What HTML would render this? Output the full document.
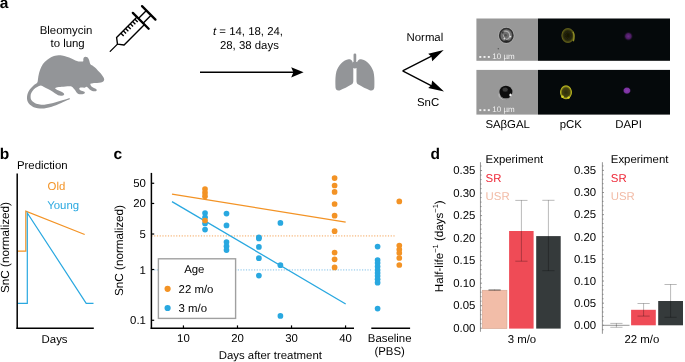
<!DOCTYPE html>
<html><head><meta charset="utf-8"><style>
html,body{margin:0;padding:0;background:#fff;}
svg{display:block;will-change:transform;}
text{font-family:"Liberation Sans",sans-serif;text-rendering:geometricPrecision;}
</style></head><body>
<svg width="685" height="362" viewBox="0 0 685 362">
<rect width="685" height="362" fill="#fff"/>
<text x="-0.3" y="8.3" font-size="15.5" text-anchor="start" fill="#000" font-weight="bold" >a</text>
<text x="66.0" y="33.9" font-size="11.4" text-anchor="middle" fill="#000" font-weight="normal" >Bleomycin</text>
<text x="67.6" y="47.0" font-size="11.4" text-anchor="middle" fill="#000" font-weight="normal" >to lung</text>
<g transform="translate(110.2,51.4) rotate(-45)" stroke="#000" fill="none" stroke-linecap="round" stroke-linejoin="round">
<line x1="0" y1="0" x2="10.3" y2="0" stroke-width="1.3"/>
<path d="M43.2,-5.3 L14.35,-5.3 L10.3,0 L14.35,5.3 L43.2,5.3" stroke-width="1.4"/>
<line x1="20.50" y1="-5.3" x2="20.50" y2="-1.4" stroke-width="1.35" stroke-linecap="butt"/>
<line x1="23.80" y1="-5.3" x2="23.80" y2="-1.4" stroke-width="1.35" stroke-linecap="butt"/>
<line x1="27.10" y1="-5.3" x2="27.10" y2="-1.4" stroke-width="1.35" stroke-linecap="butt"/>
<line x1="30.40" y1="-5.3" x2="30.40" y2="-1.4" stroke-width="1.35" stroke-linecap="butt"/>
<line x1="33.70" y1="-5.3" x2="33.70" y2="-1.4" stroke-width="1.35" stroke-linecap="butt"/>
<line x1="37.00" y1="-5.3" x2="37.00" y2="-1.4" stroke-width="1.35" stroke-linecap="butt"/>
<line x1="40.30" y1="-5.3" x2="40.30" y2="-1.4" stroke-width="1.35" stroke-linecap="butt"/>
<line x1="43.2" y1="-11.2" x2="43.2" y2="11.2" stroke-width="2.3"/>
<path d="M43.2,-3.3 L54.5,-3.3 M43.2,3.3 L54.5,3.3" stroke-width="1.4"/>
<line x1="54.5" y1="-9.5" x2="54.5" y2="9.5" stroke-width="2.3"/>
</g>
<path fill="#939598" d="M37.30,82.40 C37.92,81.43 37.78,80.20 38.00,79.00 C38.22,77.80 38.25,76.75 38.60,75.20 C38.95,73.65 39.40,71.53 40.10,69.70 C40.80,67.87 41.60,65.87 42.80,64.20 C44.00,62.53 45.85,60.90 47.30,59.70 C48.75,58.50 50.22,57.65 51.50,57.00 C52.78,56.35 53.83,56.08 55.00,55.80 C56.17,55.52 57.33,55.35 58.50,55.30 C59.67,55.25 60.63,55.27 62.00,55.50 C63.37,55.73 65.13,56.20 66.70,56.70 C68.27,57.20 69.95,57.87 71.40,58.50 C72.85,59.13 74.23,60.02 75.40,60.50 C76.57,60.98 77.42,61.23 78.40,61.40 C79.38,61.57 80.50,61.52 81.30,61.50 C82.10,61.48 82.87,61.67 83.20,61.30 C83.53,60.93 83.18,59.93 83.30,59.30 C83.42,58.67 83.55,57.93 83.90,57.50 C84.25,57.07 84.82,56.73 85.40,56.70 C85.98,56.67 86.82,56.83 87.40,57.30 C87.98,57.77 88.52,58.68 88.90,59.50 C89.28,60.32 89.45,61.42 89.70,62.20 C89.95,62.98 89.95,63.63 90.40,64.20 C90.85,64.77 91.63,65.03 92.40,65.60 C93.17,66.17 94.10,66.80 95.00,67.60 C95.90,68.40 96.83,69.43 97.80,70.40 C98.77,71.37 99.92,72.35 100.80,73.40 C101.68,74.45 102.53,75.73 103.10,76.70 C103.67,77.67 104.13,78.43 104.20,79.20 C104.27,79.97 104.03,80.73 103.50,81.30 C102.97,81.87 102.08,82.30 101.00,82.60 C99.92,82.90 98.33,83.00 97.00,83.10 C95.67,83.20 94.03,83.12 93.00,83.20 C91.97,83.28 91.23,83.33 90.80,83.60 C90.37,83.87 90.28,84.32 90.40,84.80 C90.52,85.28 90.92,85.97 91.50,86.50 C92.08,87.03 93.13,87.60 93.90,88.00 C94.67,88.40 95.62,88.53 96.10,88.90 C96.58,89.27 96.95,89.80 96.80,90.20 C96.65,90.60 95.97,91.17 95.20,91.30 C94.43,91.43 93.13,91.30 92.20,91.00 C91.27,90.70 90.30,90.05 89.60,89.50 C88.90,88.95 88.57,88.15 88.00,87.70 C87.43,87.25 86.77,86.78 86.20,86.80 C85.63,86.82 85.43,87.67 84.60,87.80 C83.77,87.93 82.08,87.50 81.20,87.60 C80.32,87.70 79.43,87.95 79.30,88.40 C79.17,88.85 79.87,89.87 80.40,90.30 C80.93,90.73 81.78,90.72 82.50,91.00 C83.22,91.28 84.38,91.60 84.70,92.00 C85.02,92.40 84.90,93.03 84.40,93.40 C83.90,93.77 82.70,94.12 81.70,94.20 C80.70,94.28 79.28,94.23 78.40,93.90 C77.52,93.57 77.03,92.92 76.40,92.20 C75.77,91.48 75.28,90.47 74.60,89.60 C73.92,88.73 73.02,87.57 72.30,87.00 C71.58,86.43 71.43,86.30 70.30,86.20 C69.17,86.10 66.97,86.30 65.50,86.40 C64.03,86.50 63.00,86.60 61.50,86.80 C60.00,87.00 57.52,87.27 56.50,87.60 C55.48,87.93 54.85,88.22 55.40,88.80 C55.95,89.38 58.57,90.50 59.80,91.10 C61.03,91.70 62.07,91.92 62.80,92.40 C63.53,92.88 64.17,93.48 64.20,94.00 C64.23,94.52 63.87,95.23 63.00,95.50 C62.13,95.77 60.07,95.80 59.00,95.60 C57.93,95.40 57.63,94.95 56.60,94.30 C55.57,93.65 54.23,92.58 52.80,91.70 C51.37,90.82 49.47,89.78 48.00,89.00 C46.53,88.22 45.20,87.57 44.00,87.00 C42.80,86.43 41.93,85.60 40.80,85.60 C39.67,85.60 38.38,86.35 37.20,87.00 C36.02,87.65 34.68,88.50 33.70,89.50 C32.72,90.50 31.82,91.88 31.30,93.00 C30.78,94.12 30.58,95.02 30.60,96.20 C30.62,97.38 30.63,98.92 31.40,100.10 C32.17,101.28 33.77,102.55 35.20,103.30 C36.63,104.05 38.48,104.37 40.00,104.60 C41.52,104.83 42.72,104.83 44.30,104.70 C45.88,104.57 47.73,104.18 49.50,103.80 C51.27,103.42 52.90,102.95 54.90,102.40 C56.90,101.85 59.28,101.17 61.50,100.50 C63.72,99.83 66.82,98.75 68.20,98.40 C69.58,98.05 69.57,98.25 69.80,98.40 C70.03,98.55 70.15,98.95 69.60,99.30 C69.05,99.65 68.20,99.77 66.50,100.50 C64.80,101.23 61.65,102.73 59.40,103.70 C57.15,104.67 54.77,105.65 53.00,106.30 C51.23,106.95 50.30,107.25 48.80,107.60 C47.30,107.95 45.48,108.25 44.00,108.40 C42.52,108.55 41.32,108.60 39.90,108.50 C38.48,108.40 36.82,108.17 35.50,107.80 C34.18,107.43 33.12,107.00 32.00,106.30 C30.88,105.60 29.58,104.57 28.80,103.60 C28.02,102.63 27.60,101.52 27.30,100.50 C27.00,99.48 26.98,98.50 27.00,97.50 C27.02,96.50 27.10,95.58 27.40,94.50 C27.70,93.42 28.15,92.13 28.80,91.00 C29.45,89.87 30.38,88.73 31.30,87.70 C32.22,86.67 33.30,85.68 34.30,84.80 C35.30,83.92 36.68,83.37 37.30,82.40 Z"/>
<line x1="200" y1="72.3" x2="294" y2="72.3" stroke="#000" stroke-width="1.4" />
<path d="M303.6,72.3 L291.2,67.2 L293.4,72.3 L291.2,77.4 Z" fill="#000"/>
<path d="M402.6,70.9 L434,54.8 M402.6,70.9 L434,87.2" stroke="#000" stroke-width="1.4" fill="none"/>
<path d="M443.7,50.0 L428.2,53.8 L431.4,56.6 L432.2,61.2 Z" fill="#000"/>
<path d="M444.0,91.4 L432.2,80.6 L431.4,85.2 L428.2,88.0 Z" fill="#000"/>
<text x="248.0" y="34.7" font-size="11.4" text-anchor="middle" fill="#000" font-weight="normal" ><tspan font-style="italic">t</tspan> = 14, 18, 24,</text>
<text x="249.4" y="48.5" font-size="11.4" text-anchor="middle" fill="#000" font-weight="normal" >28, 38 days</text>
<path fill="#939598" d="M353.3,66 C353.2,61.5 351.5,58.8 348.6,59.2 C343.5,59.8 338.5,65 336.4,71.5 C335.4,75 335.3,80 335.4,84.5 L335.5,87.6 C335.7,90 337.4,91 339.6,90.4 C343.5,89 348,86.6 351.4,84.6 C352.9,83.7 353.3,82.6 353.3,81 Z"/>
<path fill="#939598" d="M353.3,66 C353.2,61.5 351.5,58.8 348.6,59.2 C343.5,59.8 338.5,65 336.4,71.5 C335.4,75 335.3,80 335.4,84.5 L335.5,87.6 C335.7,90 337.4,91 339.6,90.4 C343.5,89 348,86.6 351.4,84.6 C352.9,83.7 353.3,82.6 353.3,81 Z" transform="translate(709.8,0) scale(-1,1)"/>
<rect x="353.55" y="53.5" width="2.7" height="13.5" rx="1.3" fill="#939598"/>
<path fill="#939598" d="M352.8,62 L357,62 L357,67.3 C356,68.9 353.8,68.9 352.8,67.3 Z"/>
<text x="424.9" y="40.7" font-size="11.4" text-anchor="middle" fill="#000" font-weight="normal" >Normal</text>
<text x="428.1" y="105.5" font-size="11.4" text-anchor="middle" fill="#000" font-weight="normal" >SnC</text>
<defs>
<filter id="bl1" x="-50%" y="-50%" width="200%" height="200%"><feGaussianBlur stdDeviation="0.6"/></filter>
<filter id="bl2" x="-50%" y="-50%" width="200%" height="200%"><feGaussianBlur stdDeviation="1.4"/></filter>
<filter id="bl3" x="-50%" y="-50%" width="200%" height="200%"><feGaussianBlur stdDeviation="0.9"/></filter>
</defs>
<rect x="476.4" y="18.5" width="61.6" height="42.3" fill="#989898"/>
<rect x="538" y="18.5" width="132" height="42.3" fill="#05090b"/>
<rect x="476.4" y="69.9" width="61.6" height="44.7" fill="#989898"/>
<rect x="538" y="69.9" width="132" height="44.7" fill="#05090b"/>
<defs>
<radialGradient id="pck1" cx="0.5" cy="0.5" r="0.5"><stop offset="0" stop-color="#141405"/><stop offset="0.6" stop-color="#262608"/><stop offset="0.86" stop-color="#5f5d19"/><stop offset="1" stop-color="#5f5d19" stop-opacity="0"/></radialGradient>
<radialGradient id="pck2" cx="0.5" cy="0.5" r="0.5"><stop offset="0" stop-color="#2c2b0a"/><stop offset="0.6" stop-color="#45430f"/><stop offset="0.85" stop-color="#b8b420"/><stop offset="1" stop-color="#b8b420" stop-opacity="0"/></radialGradient>
<radialGradient id="dapi1" cx="0.5" cy="0.5" r="0.5"><stop offset="0" stop-color="#6a2a88"/><stop offset="0.55" stop-color="#4a1c60"/><stop offset="1" stop-color="#05090b" stop-opacity="0"/></radialGradient>
<radialGradient id="dapi2" cx="0.5" cy="0.5" r="0.5"><stop offset="0" stop-color="#8c3cae"/><stop offset="0.65" stop-color="#7a32a0"/><stop offset="1" stop-color="#05090b" stop-opacity="0"/></radialGradient>
</defs>
<g filter="url(#bl1)"><ellipse cx="506.3" cy="35.4" rx="7.7" ry="7.9" fill="none" stroke="#b2b2b2" stroke-width="0.8"/><ellipse cx="506.3" cy="35.4" rx="6.6" ry="6.9" fill="#6e6e6e" stroke="#303030" stroke-width="1.6"/><path d="M504.2,31.2 Q508.8,30.6 509.6,34.6 Q510.2,38.6 506.2,39.4" fill="none" stroke="#b0b0b0" stroke-width="1.1"/><path d="M503.2,34.5 Q503.4,37.8 505.5,38.4" fill="none" stroke="#a8a8a8" stroke-width="1.0"/><circle cx="505.6" cy="35.2" r="1.3" fill="#505050"/><circle cx="502.6" cy="32.6" r="1.0" fill="#3a3a3a"/><circle cx="510.4" cy="36.6" r="0.9" fill="#dedede"/><circle cx="504.4" cy="38.6" r="0.9" fill="#d8d8d8"/><ellipse cx="506.5" cy="41.2" rx="2.6" ry="0.9" fill="#262626"/><circle cx="498.3" cy="48.8" r="0.7" fill="#555"/></g>
<g filter="url(#bl1)"><ellipse cx="504.2" cy="95.0" rx="5.2" ry="4.2" fill="none" stroke="#c4c4c4" stroke-width="0.9"/><ellipse cx="505.9" cy="92.1" rx="6.5" ry="6.4" fill="#111"/><ellipse cx="505.2" cy="89.6" rx="2.6" ry="2.2" fill="#3a3a3a"/><ellipse cx="510.5" cy="95.0" rx="1.2" ry="1.5" fill="#f4f4f4"/><path d="M500.5,97 Q503,99.6 507,99" fill="none" stroke="#7a7a7a" stroke-width="0.9"/></g>
<ellipse cx="567.9" cy="35.5" rx="7.0" ry="8.0" fill="url(#pck1)" filter="url(#bl1)"/>
<path d="M573.0,31.8 Q575.0,36 573.3,41.2" fill="none" stroke="#8e8c26" stroke-width="1.4" filter="url(#bl1)"/>
<ellipse cx="566.0" cy="92.3" rx="6.4" ry="7.5" fill="url(#pck2)" filter="url(#bl1)"/>
<circle cx="562.5" cy="96.8" r="1.3" fill="#dcd828" filter="url(#bl1)"/><circle cx="568.6" cy="97.6" r="1.2" fill="#dcd828" filter="url(#bl1)"/>
<circle cx="628.4" cy="36.3" r="5.0" fill="url(#dapi1)"/>
<ellipse cx="626.9" cy="90.6" rx="4.4" ry="4.0" fill="url(#dapi2)" filter="url(#bl1)"/>
<rect x="479.3" y="56.0" width="2.0" height="1.9" fill="#f2f2f2"/>
<rect x="483.5" y="56.0" width="2.0" height="1.9" fill="#f2f2f2"/>
<rect x="487.8" y="56.0" width="2.0" height="1.9" fill="#f2f2f2"/>
<text x="492.3" y="58.6" font-size="8.0" text-anchor="start" fill="#f2f2f2" font-weight="normal" >10 µm</text>
<rect x="479.3" y="109.2" width="2.0" height="1.9" fill="#f2f2f2"/>
<rect x="483.5" y="109.2" width="2.0" height="1.9" fill="#f2f2f2"/>
<rect x="487.8" y="109.2" width="2.0" height="1.9" fill="#f2f2f2"/>
<text x="492.3" y="111.8" font-size="8.0" text-anchor="start" fill="#f2f2f2" font-weight="normal" >10 µm</text>
<text x="507.65" y="127.6" font-size="11.4" text-anchor="middle" fill="#000" font-weight="normal" >SAβGAL</text>
<text x="570.85" y="127.6" font-size="11.4" text-anchor="middle" fill="#000" font-weight="normal" >pCK</text>
<text x="628.6" y="127.6" font-size="11.4" text-anchor="middle" fill="#000" font-weight="normal" >DAPI</text>
<text x="-0.3" y="158.7" font-size="15.5" text-anchor="start" fill="#000" font-weight="bold" >b</text>
<text x="42.25" y="168.6" font-size="11.4" text-anchor="middle" fill="#000" font-weight="normal" >Prediction</text>
<polyline points="17.6,251.2 25.8,251.2 25.8,211.2 84.7,234.5" fill="none" stroke="#f39325" stroke-width="1.2" stroke-linejoin="miter"/>
<polyline points="17.6,303.3 27.3,303.3 27.3,212.9 86.2,303.3 93.5,303.3" fill="none" stroke="#29a8e0" stroke-width="1.2"/>
<line x1="17.2" y1="173.6" x2="17.2" y2="329.0" stroke="#000" stroke-width="1.5" />
<line x1="16.45" y1="328.3" x2="93.8" y2="328.3" stroke="#000" stroke-width="1.5" />
<text x="56.4" y="189.7" font-size="11.4" text-anchor="middle" fill="#f39325" font-weight="normal" >Old</text>
<text x="63.2" y="208.5" font-size="11.4" text-anchor="middle" fill="#29a8e0" font-weight="normal" >Young</text>
<text x="54.6" y="342.5" font-size="11.4" text-anchor="middle" fill="#000" font-weight="normal" >Days</text>
<text x="0" y="0" font-size="11.7" text-anchor="middle" fill="#000" font-weight="normal" transform="translate(9.4,247.5) rotate(-90)">SnC (normalized)</text>
<text x="113.4" y="159.1" font-size="15.5" text-anchor="start" fill="#000" font-weight="bold" >c</text>
<line x1="151.4" y1="235.85" x2="394.8" y2="235.85" stroke="#f9cba0" stroke-width="1.7" stroke-dasharray="1.2,1.55"/>
<line x1="151.4" y1="269.95" x2="371" y2="269.95" stroke="#b6dbf2" stroke-width="1.7" stroke-dasharray="1.2,1.5"/>
<line x1="172.0" y1="194.1" x2="345.7" y2="222.2" stroke="#f39325" stroke-width="1.3" />
<line x1="172.0" y1="201.6" x2="345.7" y2="304.0" stroke="#29a8e0" stroke-width="1.3" />
<circle cx="205.05" cy="213.0" r="2.85" fill="#29a8e0"/>
<circle cx="205.05" cy="217.3" r="2.85" fill="#29a8e0"/>
<circle cx="205.05" cy="223.5" r="2.85" fill="#29a8e0"/>
<circle cx="205.05" cy="229.6" r="2.85" fill="#29a8e0"/>
<circle cx="226.5" cy="213.6" r="2.85" fill="#29a8e0"/>
<circle cx="226.5" cy="225.4" r="2.85" fill="#29a8e0"/>
<circle cx="226.5" cy="242.1" r="2.85" fill="#29a8e0"/>
<circle cx="226.5" cy="246.2" r="2.85" fill="#29a8e0"/>
<circle cx="226.5" cy="250.1" r="2.85" fill="#29a8e0"/>
<circle cx="258.9" cy="237.4" r="2.85" fill="#29a8e0"/>
<circle cx="258.9" cy="238.4" r="2.85" fill="#29a8e0"/>
<circle cx="258.9" cy="246.9" r="2.85" fill="#29a8e0"/>
<circle cx="258.9" cy="258.2" r="2.85" fill="#29a8e0"/>
<circle cx="258.9" cy="275.6" r="2.85" fill="#29a8e0"/>
<circle cx="280.4" cy="222.9" r="2.85" fill="#29a8e0"/>
<circle cx="280.4" cy="265.2" r="2.85" fill="#29a8e0"/>
<circle cx="280.4" cy="315.9" r="2.85" fill="#29a8e0"/>
<circle cx="377.6" cy="246.6" r="2.85" fill="#29a8e0"/>
<circle cx="377.6" cy="260" r="2.85" fill="#29a8e0"/>
<circle cx="377.6" cy="263" r="2.85" fill="#29a8e0"/>
<circle cx="377.6" cy="266.5" r="2.85" fill="#29a8e0"/>
<circle cx="377.6" cy="270" r="2.85" fill="#29a8e0"/>
<circle cx="377.6" cy="273" r="2.85" fill="#29a8e0"/>
<circle cx="377.6" cy="276" r="2.85" fill="#29a8e0"/>
<circle cx="377.6" cy="279.3" r="2.85" fill="#29a8e0"/>
<circle cx="377.6" cy="282.7" r="2.85" fill="#29a8e0"/>
<circle cx="377.6" cy="308.6" r="2.85" fill="#29a8e0"/>
<circle cx="205.0" cy="189.0" r="2.85" fill="#f39325"/>
<circle cx="205.0" cy="192.7" r="2.85" fill="#f39325"/>
<circle cx="205.0" cy="196.2" r="2.85" fill="#f39325"/>
<circle cx="205.0" cy="220.5" r="2.85" fill="#f39325"/>
<circle cx="334.6" cy="178.1" r="2.85" fill="#f39325"/>
<circle cx="334.6" cy="185.5" r="2.85" fill="#f39325"/>
<circle cx="334.6" cy="191.9" r="2.85" fill="#f39325"/>
<circle cx="334.6" cy="204.0" r="2.85" fill="#f39325"/>
<circle cx="334.6" cy="215.7" r="2.85" fill="#f39325"/>
<circle cx="334.6" cy="231.2" r="2.85" fill="#f39325"/>
<circle cx="334.6" cy="252.6" r="2.85" fill="#f39325"/>
<circle cx="334.6" cy="259.3" r="2.85" fill="#f39325"/>
<circle cx="334.6" cy="267.4" r="2.85" fill="#f39325"/>
<circle cx="399.3" cy="201.4" r="2.85" fill="#f39325"/>
<circle cx="399.3" cy="245.5" r="2.85" fill="#f39325"/>
<circle cx="399.3" cy="249.5" r="2.85" fill="#f39325"/>
<circle cx="399.3" cy="253" r="2.85" fill="#f39325"/>
<circle cx="399.3" cy="258" r="2.85" fill="#f39325"/>
<circle cx="399.3" cy="265" r="2.85" fill="#f39325"/>
<line x1="151.4" y1="172.9" x2="151.4" y2="329.0" stroke="#000" stroke-width="1.5" />
<line x1="150.65" y1="328.3" x2="354.0" y2="328.3" stroke="#000" stroke-width="1.5" />
<line x1="371.3" y1="328.3" x2="410.1" y2="328.3" stroke="#000" stroke-width="1.5" />
<line x1="151.4" y1="183.26028257990367" x2="154.2" y2="183.26028257990367" stroke="#000" stroke-width="1.2" />
<text x="145.9" y="187.26028257990367" font-size="11.4" text-anchor="end" fill="#000" font-weight="normal" >50</text>
<line x1="151.4" y1="203.4597174200963" x2="154.2" y2="203.4597174200963" stroke="#000" stroke-width="1.2" />
<text x="145.9" y="207.4597174200963" font-size="11.4" text-anchor="end" fill="#000" font-weight="normal" >20</text>
<line x1="151.4" y1="234.0202825799037" x2="154.2" y2="234.0202825799037" stroke="#000" stroke-width="1.2" />
<text x="145.9" y="238.0202825799037" font-size="11.4" text-anchor="end" fill="#000" font-weight="normal" >5</text>
<line x1="151.4" y1="269.5" x2="154.2" y2="269.5" stroke="#000" stroke-width="1.2" />
<text x="145.9" y="273.5" font-size="11.4" text-anchor="end" fill="#000" font-weight="normal" >1</text>
<line x1="151.4" y1="320.26" x2="154.2" y2="320.26" stroke="#000" stroke-width="1.2" />
<text x="145.9" y="324.26" font-size="11.4" text-anchor="end" fill="#000" font-weight="normal" >0.1</text>
<line x1="183.44" y1="328.3" x2="183.44" y2="325.4" stroke="#000" stroke-width="1.2" />
<text x="183.44" y="342.2" font-size="11.4" text-anchor="middle" fill="#000" font-weight="normal" >10</text>
<line x1="237.48000000000002" y1="328.3" x2="237.48000000000002" y2="325.4" stroke="#000" stroke-width="1.2" />
<text x="237.48000000000002" y="342.2" font-size="11.4" text-anchor="middle" fill="#000" font-weight="normal" >20</text>
<line x1="291.52" y1="328.3" x2="291.52" y2="325.4" stroke="#000" stroke-width="1.2" />
<text x="291.52" y="342.2" font-size="11.4" text-anchor="middle" fill="#000" font-weight="normal" >30</text>
<line x1="345.56" y1="328.3" x2="345.56" y2="325.4" stroke="#000" stroke-width="1.2" />
<text x="345.56" y="342.2" font-size="11.4" text-anchor="middle" fill="#000" font-weight="normal" >40</text>
<text x="270.35" y="359.0" font-size="11.4" text-anchor="middle" fill="#000" font-weight="normal" >Days after treatment</text>
<text x="389.65" y="341.9" font-size="11.4" text-anchor="middle" fill="#000" font-weight="normal" >Baseline</text>
<text x="389.65" y="354.6" font-size="11.4" text-anchor="middle" fill="#000" font-weight="normal" >(PBS)</text>
<text x="0" y="0" font-size="11.7" text-anchor="middle" fill="#000" font-weight="normal" transform="translate(122.8,250.5) rotate(-90)">SnC (normalized)</text>
<rect x="158.4" y="258.8" width="77.2" height="59.6" fill="#fff" stroke="#a0a0a0" stroke-width="1.4"/>
<text x="194.3" y="273.4" font-size="11.4" text-anchor="middle" fill="#000" font-weight="normal" >Age</text>
<circle cx="167.6" cy="288.8" r="3.1" fill="#f39325"/>
<text x="178.6" y="292.5" font-size="11.4" text-anchor="start" fill="#000" font-weight="normal" >22 m/o</text>
<circle cx="167.6" cy="308.0" r="3.1" fill="#29a8e0"/>
<text x="178.6" y="311.8" font-size="11.4" text-anchor="start" fill="#000" font-weight="normal" >3 m/o</text>
<text x="430.6" y="158.6" font-size="15.5" text-anchor="start" fill="#000" font-weight="bold" >d</text>
<line x1="480.45" y1="162.2" x2="480.45" y2="331.8" stroke="#8a8a8a" stroke-width="0.9" />
<line x1="480.15" y1="328.2" x2="482.05" y2="328.2" stroke="#7a7a7a" stroke-width="0.8" />
<line x1="480.15" y1="323.69599999999997" x2="481.55" y2="323.69599999999997" stroke="#7a7a7a" stroke-width="0.8" />
<line x1="480.15" y1="319.192" x2="481.55" y2="319.192" stroke="#7a7a7a" stroke-width="0.8" />
<line x1="480.15" y1="314.688" x2="481.55" y2="314.688" stroke="#7a7a7a" stroke-width="0.8" />
<line x1="480.15" y1="310.18399999999997" x2="481.55" y2="310.18399999999997" stroke="#7a7a7a" stroke-width="0.8" />
<line x1="480.15" y1="305.68" x2="482.05" y2="305.68" stroke="#7a7a7a" stroke-width="0.8" />
<line x1="480.15" y1="301.176" x2="481.55" y2="301.176" stroke="#7a7a7a" stroke-width="0.8" />
<line x1="480.15" y1="296.67199999999997" x2="481.55" y2="296.67199999999997" stroke="#7a7a7a" stroke-width="0.8" />
<line x1="480.15" y1="292.168" x2="481.55" y2="292.168" stroke="#7a7a7a" stroke-width="0.8" />
<line x1="480.15" y1="287.664" x2="481.55" y2="287.664" stroke="#7a7a7a" stroke-width="0.8" />
<line x1="480.15" y1="283.15999999999997" x2="482.05" y2="283.15999999999997" stroke="#7a7a7a" stroke-width="0.8" />
<line x1="480.15" y1="278.656" x2="481.55" y2="278.656" stroke="#7a7a7a" stroke-width="0.8" />
<line x1="480.15" y1="274.152" x2="481.55" y2="274.152" stroke="#7a7a7a" stroke-width="0.8" />
<line x1="480.15" y1="269.64799999999997" x2="481.55" y2="269.64799999999997" stroke="#7a7a7a" stroke-width="0.8" />
<line x1="480.15" y1="265.144" x2="481.55" y2="265.144" stroke="#7a7a7a" stroke-width="0.8" />
<line x1="480.15" y1="260.64" x2="482.05" y2="260.64" stroke="#7a7a7a" stroke-width="0.8" />
<line x1="480.15" y1="256.13599999999997" x2="481.55" y2="256.13599999999997" stroke="#7a7a7a" stroke-width="0.8" />
<line x1="480.15" y1="251.632" x2="481.55" y2="251.632" stroke="#7a7a7a" stroke-width="0.8" />
<line x1="480.15" y1="247.128" x2="481.55" y2="247.128" stroke="#7a7a7a" stroke-width="0.8" />
<line x1="480.15" y1="242.624" x2="481.55" y2="242.624" stroke="#7a7a7a" stroke-width="0.8" />
<line x1="480.15" y1="238.12" x2="482.05" y2="238.12" stroke="#7a7a7a" stroke-width="0.8" />
<line x1="480.15" y1="233.61599999999999" x2="481.55" y2="233.61599999999999" stroke="#7a7a7a" stroke-width="0.8" />
<line x1="480.15" y1="229.112" x2="481.55" y2="229.112" stroke="#7a7a7a" stroke-width="0.8" />
<line x1="480.15" y1="224.608" x2="481.55" y2="224.608" stroke="#7a7a7a" stroke-width="0.8" />
<line x1="480.15" y1="220.10399999999998" x2="481.55" y2="220.10399999999998" stroke="#7a7a7a" stroke-width="0.8" />
<line x1="480.15" y1="215.6" x2="482.05" y2="215.6" stroke="#7a7a7a" stroke-width="0.8" />
<line x1="480.15" y1="211.096" x2="481.55" y2="211.096" stroke="#7a7a7a" stroke-width="0.8" />
<line x1="480.15" y1="206.59199999999998" x2="481.55" y2="206.59199999999998" stroke="#7a7a7a" stroke-width="0.8" />
<line x1="480.15" y1="202.08799999999997" x2="481.55" y2="202.08799999999997" stroke="#7a7a7a" stroke-width="0.8" />
<line x1="480.15" y1="197.584" x2="481.55" y2="197.584" stroke="#7a7a7a" stroke-width="0.8" />
<line x1="480.15" y1="193.08" x2="482.05" y2="193.08" stroke="#7a7a7a" stroke-width="0.8" />
<line x1="480.15" y1="188.576" x2="481.55" y2="188.576" stroke="#7a7a7a" stroke-width="0.8" />
<line x1="480.15" y1="184.072" x2="481.55" y2="184.072" stroke="#7a7a7a" stroke-width="0.8" />
<line x1="480.15" y1="179.56799999999998" x2="481.55" y2="179.56799999999998" stroke="#7a7a7a" stroke-width="0.8" />
<line x1="480.15" y1="175.064" x2="481.55" y2="175.064" stroke="#7a7a7a" stroke-width="0.8" />
<line x1="480.15" y1="170.55999999999997" x2="482.05" y2="170.55999999999997" stroke="#7a7a7a" stroke-width="0.8" />
<line x1="480.15" y1="166.056" x2="481.55" y2="166.056" stroke="#7a7a7a" stroke-width="0.8" />
<text x="475.4" y="331.95" font-size="11.4" text-anchor="end" fill="#000" font-weight="normal" >0.00</text>
<text x="475.4" y="309.43" font-size="11.4" text-anchor="end" fill="#000" font-weight="normal" >0.05</text>
<text x="475.4" y="286.90999999999997" font-size="11.4" text-anchor="end" fill="#000" font-weight="normal" >0.10</text>
<text x="475.4" y="264.39" font-size="11.4" text-anchor="end" fill="#000" font-weight="normal" >0.15</text>
<text x="475.4" y="241.87" font-size="11.4" text-anchor="end" fill="#000" font-weight="normal" >0.20</text>
<text x="475.4" y="219.35" font-size="11.4" text-anchor="end" fill="#000" font-weight="normal" >0.25</text>
<text x="475.4" y="196.82999999999998" font-size="11.4" text-anchor="end" fill="#000" font-weight="normal" >0.30</text>
<text x="475.4" y="174.30999999999997" font-size="11.4" text-anchor="end" fill="#000" font-weight="normal" >0.35</text>
<line x1="602.4" y1="162.2" x2="602.4" y2="333.8" stroke="#8a8a8a" stroke-width="0.9" />
<line x1="602.1" y1="329.726" x2="603.5" y2="329.726" stroke="#7a7a7a" stroke-width="0.8" />
<line x1="602.1" y1="325.3" x2="604.0" y2="325.3" stroke="#7a7a7a" stroke-width="0.8" />
<line x1="602.1" y1="320.874" x2="603.5" y2="320.874" stroke="#7a7a7a" stroke-width="0.8" />
<line x1="602.1" y1="316.44800000000004" x2="603.5" y2="316.44800000000004" stroke="#7a7a7a" stroke-width="0.8" />
<line x1="602.1" y1="312.022" x2="603.5" y2="312.022" stroke="#7a7a7a" stroke-width="0.8" />
<line x1="602.1" y1="307.596" x2="603.5" y2="307.596" stroke="#7a7a7a" stroke-width="0.8" />
<line x1="602.1" y1="303.17" x2="604.0" y2="303.17" stroke="#7a7a7a" stroke-width="0.8" />
<line x1="602.1" y1="298.744" x2="603.5" y2="298.744" stroke="#7a7a7a" stroke-width="0.8" />
<line x1="602.1" y1="294.318" x2="603.5" y2="294.318" stroke="#7a7a7a" stroke-width="0.8" />
<line x1="602.1" y1="289.892" x2="603.5" y2="289.892" stroke="#7a7a7a" stroke-width="0.8" />
<line x1="602.1" y1="285.466" x2="603.5" y2="285.466" stroke="#7a7a7a" stroke-width="0.8" />
<line x1="602.1" y1="281.04" x2="604.0" y2="281.04" stroke="#7a7a7a" stroke-width="0.8" />
<line x1="602.1" y1="276.61400000000003" x2="603.5" y2="276.61400000000003" stroke="#7a7a7a" stroke-width="0.8" />
<line x1="602.1" y1="272.188" x2="603.5" y2="272.188" stroke="#7a7a7a" stroke-width="0.8" />
<line x1="602.1" y1="267.762" x2="603.5" y2="267.762" stroke="#7a7a7a" stroke-width="0.8" />
<line x1="602.1" y1="263.336" x2="603.5" y2="263.336" stroke="#7a7a7a" stroke-width="0.8" />
<line x1="602.1" y1="258.91" x2="604.0" y2="258.91" stroke="#7a7a7a" stroke-width="0.8" />
<line x1="602.1" y1="254.484" x2="603.5" y2="254.484" stroke="#7a7a7a" stroke-width="0.8" />
<line x1="602.1" y1="250.058" x2="603.5" y2="250.058" stroke="#7a7a7a" stroke-width="0.8" />
<line x1="602.1" y1="245.632" x2="603.5" y2="245.632" stroke="#7a7a7a" stroke-width="0.8" />
<line x1="602.1" y1="241.20600000000002" x2="603.5" y2="241.20600000000002" stroke="#7a7a7a" stroke-width="0.8" />
<line x1="602.1" y1="236.78" x2="604.0" y2="236.78" stroke="#7a7a7a" stroke-width="0.8" />
<line x1="602.1" y1="232.354" x2="603.5" y2="232.354" stroke="#7a7a7a" stroke-width="0.8" />
<line x1="602.1" y1="227.928" x2="603.5" y2="227.928" stroke="#7a7a7a" stroke-width="0.8" />
<line x1="602.1" y1="223.502" x2="603.5" y2="223.502" stroke="#7a7a7a" stroke-width="0.8" />
<line x1="602.1" y1="219.07600000000002" x2="603.5" y2="219.07600000000002" stroke="#7a7a7a" stroke-width="0.8" />
<line x1="602.1" y1="214.65" x2="604.0" y2="214.65" stroke="#7a7a7a" stroke-width="0.8" />
<line x1="602.1" y1="210.224" x2="603.5" y2="210.224" stroke="#7a7a7a" stroke-width="0.8" />
<line x1="602.1" y1="205.798" x2="603.5" y2="205.798" stroke="#7a7a7a" stroke-width="0.8" />
<line x1="602.1" y1="201.372" x2="603.5" y2="201.372" stroke="#7a7a7a" stroke-width="0.8" />
<line x1="602.1" y1="196.94600000000003" x2="603.5" y2="196.94600000000003" stroke="#7a7a7a" stroke-width="0.8" />
<line x1="602.1" y1="192.52" x2="604.0" y2="192.52" stroke="#7a7a7a" stroke-width="0.8" />
<line x1="602.1" y1="188.094" x2="603.5" y2="188.094" stroke="#7a7a7a" stroke-width="0.8" />
<line x1="602.1" y1="183.668" x2="603.5" y2="183.668" stroke="#7a7a7a" stroke-width="0.8" />
<line x1="602.1" y1="179.242" x2="603.5" y2="179.242" stroke="#7a7a7a" stroke-width="0.8" />
<line x1="602.1" y1="174.816" x2="603.5" y2="174.816" stroke="#7a7a7a" stroke-width="0.8" />
<line x1="602.1" y1="170.39" x2="604.0" y2="170.39" stroke="#7a7a7a" stroke-width="0.8" />
<line x1="602.1" y1="165.964" x2="603.5" y2="165.964" stroke="#7a7a7a" stroke-width="0.8" />
<text x="596.2" y="329.05" font-size="11.4" text-anchor="end" fill="#000" font-weight="normal" >0.00</text>
<text x="596.2" y="306.92" font-size="11.4" text-anchor="end" fill="#000" font-weight="normal" >0.05</text>
<text x="596.2" y="284.79" font-size="11.4" text-anchor="end" fill="#000" font-weight="normal" >0.10</text>
<text x="596.2" y="262.65999999999997" font-size="11.4" text-anchor="end" fill="#000" font-weight="normal" >0.15</text>
<text x="596.2" y="240.53" font-size="11.4" text-anchor="end" fill="#000" font-weight="normal" >0.20</text>
<text x="596.2" y="218.4" font-size="11.4" text-anchor="end" fill="#000" font-weight="normal" >0.25</text>
<text x="596.2" y="196.26999999999998" font-size="11.4" text-anchor="end" fill="#000" font-weight="normal" >0.30</text>
<text x="596.2" y="174.14" font-size="11.4" text-anchor="end" fill="#000" font-weight="normal" >0.35</text>
<rect x="482.3" y="290.3" width="24.6" height="38.2" fill="#f2bda8" stroke="#d8a894" stroke-width="0.7"/>
<rect x="509.1" y="231.0" width="24.5" height="97.6" fill="#ef4b56"/>
<rect x="536.2" y="236.1" width="24.5" height="92.5" fill="#353a3b"/>
<line x1="494.6" y1="289.7" x2="494.6" y2="290.3" stroke="rgba(0,0,0,0.4)" stroke-width="0.8" />
<line x1="488.5" y1="289.7" x2="500.70000000000005" y2="289.7" stroke="rgba(0,0,0,0.4)" stroke-width="0.8" />
<line x1="488.5" y1="290.3" x2="500.70000000000005" y2="290.3" stroke="rgba(0,0,0,0.4)" stroke-width="0.8" />
<line x1="521.4" y1="200.4" x2="521.4" y2="261.2" stroke="rgba(0,0,0,0.35)" stroke-width="0.8" />
<line x1="515.3" y1="200.4" x2="527.5" y2="200.4" stroke="rgba(0,0,0,0.35)" stroke-width="0.8" />
<line x1="515.3" y1="261.2" x2="527.5" y2="261.2" stroke="rgba(0,0,0,0.35)" stroke-width="0.8" />
<line x1="548.4" y1="200.3" x2="548.4" y2="270.7" stroke="rgba(0,0,0,0.35)" stroke-width="0.8" />
<line x1="542.3" y1="200.3" x2="554.5" y2="200.3" stroke="rgba(0,0,0,0.35)" stroke-width="0.8" />
<line x1="542.3" y1="270.7" x2="554.5" y2="270.7" stroke="rgba(0,0,0,0.35)" stroke-width="0.8" />
<line x1="602.4" y1="325.3" x2="629.5" y2="325.3" stroke="#8a8a8a" stroke-width="0.9" />
<line x1="616.4" y1="323.4" x2="616.4" y2="327.3" stroke="rgba(0,0,0,0.35)" stroke-width="0.8" />
<line x1="610.3" y1="323.4" x2="622.5" y2="323.4" stroke="rgba(0,0,0,0.35)" stroke-width="0.8" />
<line x1="610.3" y1="327.3" x2="622.5" y2="327.3" stroke="rgba(0,0,0,0.35)" stroke-width="0.8" />
<rect x="631.1" y="309.8" width="24.7" height="15.5" fill="#ef4b56"/>
<rect x="658.2" y="301.0" width="24.8" height="24.3" fill="#353a3b"/>
<line x1="643.6" y1="303.5" x2="643.6" y2="316.1" stroke="rgba(0,0,0,0.35)" stroke-width="0.8" />
<line x1="637.5" y1="303.5" x2="649.7" y2="303.5" stroke="rgba(0,0,0,0.35)" stroke-width="0.8" />
<line x1="637.5" y1="316.1" x2="649.7" y2="316.1" stroke="rgba(0,0,0,0.35)" stroke-width="0.8" />
<line x1="670.6" y1="284.5" x2="670.6" y2="317.3" stroke="rgba(0,0,0,0.35)" stroke-width="0.8" />
<line x1="664.5" y1="284.5" x2="676.7" y2="284.5" stroke="rgba(0,0,0,0.35)" stroke-width="0.8" />
<line x1="664.5" y1="317.3" x2="676.7" y2="317.3" stroke="rgba(0,0,0,0.35)" stroke-width="0.8" />
<text x="485.6" y="162.9" font-size="11.4" text-anchor="start" fill="#000" font-weight="normal" >Experiment</text>
<text x="485.6" y="181.7" font-size="11.4" text-anchor="start" fill="#ee2636" font-weight="normal" >SR</text>
<text x="485.6" y="199.6" font-size="11.4" text-anchor="start" fill="#f2bba6" font-weight="normal" >USR</text>
<text x="610.8" y="162.9" font-size="11.4" text-anchor="start" fill="#000" font-weight="normal" >Experiment</text>
<text x="610.8" y="181.7" font-size="11.4" text-anchor="start" fill="#ee2636" font-weight="normal" >SR</text>
<text x="610.8" y="199.6" font-size="11.4" text-anchor="start" fill="#f2bba6" font-weight="normal" >USR</text>
<text x="521.9" y="343.1" font-size="11.4" text-anchor="middle" fill="#000" font-weight="normal" >3 m/o</text>
<text x="641.9" y="342.9" font-size="11.4" text-anchor="middle" fill="#000" font-weight="normal" >22 m/o</text>
<text x="0" y="0" font-size="11.6" text-anchor="middle" fill="#000" font-weight="normal" transform="translate(442.5,246.2) rotate(-90)">Half-life<tspan font-size="7.5" dy="-4.2">−1</tspan><tspan dy="4.2"> (days</tspan><tspan font-size="7.5" dy="-4.2">−1</tspan><tspan dy="4.2">)</tspan></text>
</svg></body></html>
